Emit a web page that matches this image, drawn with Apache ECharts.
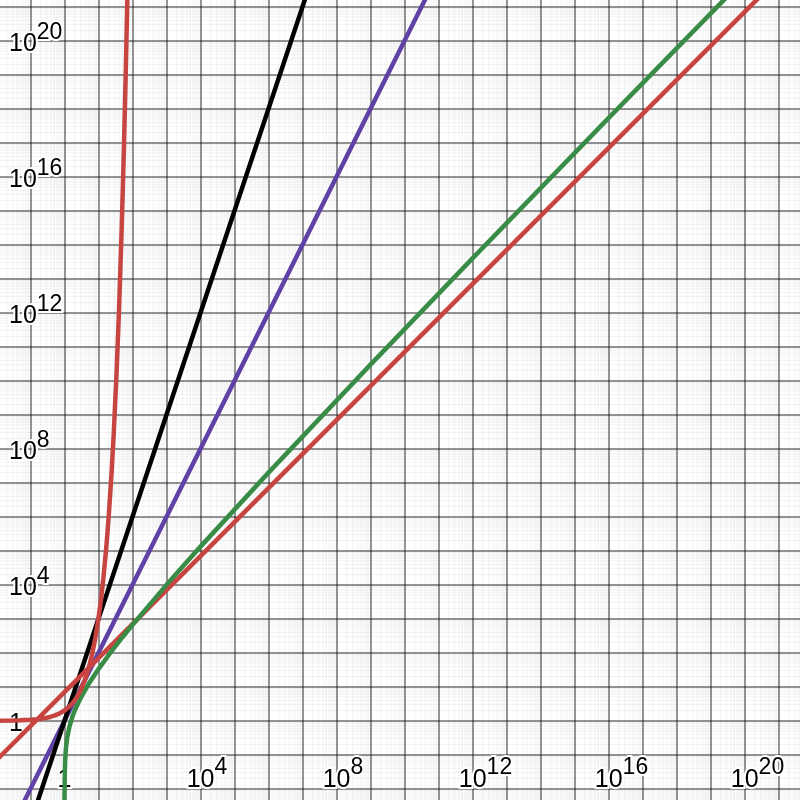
<!DOCTYPE html>
<html>
<head>
<meta charset="utf-8">
<script src="https://cdn.jsdelivr.net/npm/echarts@6.0.0/dist/echarts.min.js"></script>
<style>
  html, body { margin: 0; padding: 0; background: #fff; overflow: hidden; width: 800px; height: 800px; }
  #chart { position: absolute; left: -100px; top: -100px; width: 1000px; height: 1000px; }
</style>
</head>
<body>
<div id="chart"></div>
<script>
// ---- data (x, y values of each curve) ----
// red steep curve (2^x)
const expX = [0.01, 0.03, 0.05, 0.1, 0.15, 0.2, 0.3, 0.4, 0.5, 0.7, 1, 1.3, 1.6, 2, 2.5, 3, 4, 5, 6, 8, 10, 12, 14, 17, 20, 24, 28, 34, 40, 48, 56, 64, 72];
const expY = [1.00696, 1.0210, 1.0353, 1.0718, 1.1096, 1.1487, 1.2311, 1.3195, 1.4142, 1.6245, 2, 2.4623, 3.0314, 4, 5.6569, 8, 16, 32, 64, 256, 1024, 4096, 16384, 131072, 1048576, 16777216, 268435456, 1.718e10, 1.0995e12, 2.8147e14, 7.2058e16, 1.8447e19, 4.7224e21];
// black line (x^3)
const cubeX = [0.001, 1, 1e8];
const cubeY = [1e-9, 1, 1e24];
// purple line (x^2)
const sqX = [0.001, 1, 1e12];
const sqY = [1e-6, 1, 1e24];
// green curve (x log2 x)
const nlogX = [1.001, 1.002, 1.005, 1.01, 1.02, 1.05, 1.1, 1.2, 1.4, 1.7, 2, 3, 5, 10, 20, 50, 100, 1e3, 1e4, 1e6, 1e9, 1e12, 1e16, 1e20, 1e22];
const nlogY = [0.0014434, 0.0028883, 0.0072315, 0.014499, 0.029141, 0.073909, 0.151254, 0.315641, 0.679598, 1.30141, 2, 4.75489, 11.6096, 33.2193, 86.4386, 282.193, 664.386, 9965.78, 132877, 1.99316e7, 2.98974e10, 3.98631e13, 5.31508e17, 6.64386e21, 7.30824e23];
// red straight line (7x)
const linX = [0.001, 1, 1e23];
const linY = [0.007, 7, 7e23];
// tick labels (powers of ten that carry a label)
const xTickExps = [0, 4, 8, 12, 16, 20];
const yTickExps = [0, 4, 8, 12, 16, 20];

// ---- build ----
const toLog = (xs, ys) => xs.map((x, i) => [Math.log10(x), Math.log10(ys[i])]);

const minorLines = [];
for (let k = -3; k <= 22; k++) {
  for (let m = 2; m <= 9; m++) {
    const v = k + Math.log10(m);
    minorLines.push([v, 0]);
    minorLines.push([v, 1]);
  }
}

const halo = { textBorderColor: '#fff', textBorderWidth: 4, color: '#000', fontFamily: 'Liberation Sans, Arial, sans-serif' };
const rich = {
  b: Object.assign({ fontSize: 25, lineHeight: 22, verticalAlign: 'bottom' }, halo),
  s: Object.assign({ fontSize: 23, lineHeight: 22, verticalAlign: 'bottom', padding: [0, 0, 13, 0] }, halo),
  p1: { width: 13, fontSize: 10 },
  p2: { width: 26, fontSize: 10 }
};
function expLabel(v, list, centerBase) {
  const n = Math.round(v);
  if (Math.abs(v - n) > 1e-6 || list.indexOf(n) < 0) return '';
  if (n === 0) return '{b|1}';
  const pad = centerBase ? (String(n).length > 1 ? '{p2| }' : '{p1| }') : '';
  return pad + '{b|10}{s|' + n + '}';
}

const majorLine = { show: true, lineStyle: { color: 'rgba(0,0,0,0.42)', width: 2 } };
const LW = 4.5;

// page offset of the chart container (container is 100px up/left of the page)
const OFF = 100;
const chart = echarts.init(document.getElementById('chart'), null, { renderer: 'canvas' });
chart.setOption({
  animation: false,
  backgroundColor: '#ffffff',
  grid: { left: OFF - 3.5, top: OFF - 27.2, width: 816, height: 850, containLabel: false },
  xAxis: {
    type: 'value', min: -2, max: 22, interval: 1,
    axisLine: { show: false }, axisTick: { show: false },
    splitLine: majorLine,
    axisLabel: {
      inside: true, margin: 30.5, interval: 0, showMinLabel: true, showMaxLabel: true,
      formatter: v => expLabel(v, xTickExps, true), rich: rich
    }
  },
  yAxis: {
    type: 'value', min: -3, max: 22, interval: 1,
    axisLine: { show: false }, axisTick: { show: false },
    splitLine: majorLine,
    axisLabel: {
      inside: true, margin: 12.5, interval: 0, showMinLabel: true, showMaxLabel: true,
      padding: [10, 0, 0, 0],
      formatter: v => expLabel(v, yTickExps, false), rich: rich
    }
  },
  series: [
    {
      type: 'custom', silent: true, z: 0, clip: true,
      data: minorLines,
      renderItem: function (params, api) {
        const cs = params.coordSys;
        const v = api.value(0), dir = api.value(1);
        const st = { stroke: 'rgba(0,0,0,0.05)', lineWidth: 1 };
        if (dir === 0) {
          const px = api.coord([v, 0])[0];
          return { type: 'line', shape: { x1: px, y1: cs.y, x2: px, y2: cs.y + cs.height }, style: st };
        }
        const py = api.coord([0, v])[1];
        return { type: 'line', shape: { x1: cs.x, y1: py, x2: cs.x + cs.width, y2: py }, style: st };
      }
    },
    { name: 'x^2', type: 'line', data: toLog(sqX, sqY), showSymbol: false, clip: true, lineStyle: { color: '#6042a6', width: LW }, z: 3 },
    { name: 'x^3', type: 'line', data: toLog(cubeX, cubeY), showSymbol: false, clip: true, lineStyle: { color: '#000000', width: LW }, z: 4 },
    { name: '7x', type: 'line', data: toLog(linX, linY), showSymbol: false, clip: true, lineStyle: { color: '#c74440', width: LW }, z: 5 },
    { name: 'x log2 x', type: 'line', data: toLog(nlogX, nlogY), showSymbol: false, clip: true, lineStyle: { color: '#388c46', width: LW }, z: 6 },
    { name: '2^x', type: 'line', data: toLog(expX, expY), showSymbol: false, clip: true, lineStyle: { color: '#c74440', width: LW }, z: 7 }
  ]
});
</script>
</body>
</html>
